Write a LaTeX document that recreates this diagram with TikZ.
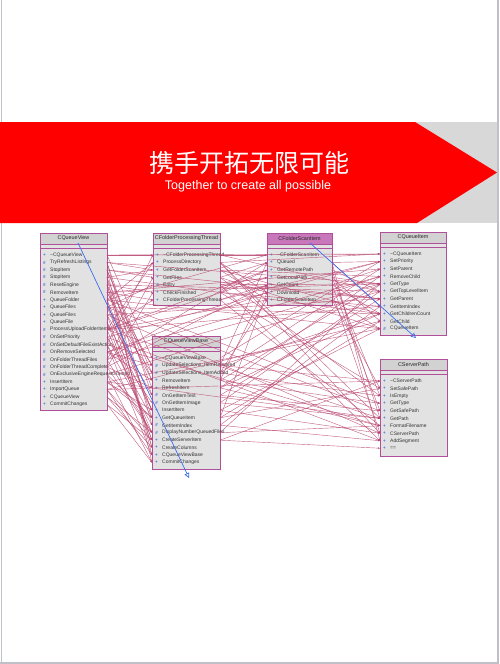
\documentclass[tikz,border=0pt]{standalone}
\usepackage{fontspec}
\setmainfont{Liberation Sans}
\newfontfamily\cjk{Noto Sans CJK SC}
\usetikzlibrary{arrows.meta}
\definecolor{cborder}{HTML}{B0509A}
\definecolor{hdrgray}{HTML}{D2D2D2}
\definecolor{bodygray}{HTML}{E2E2E2}
\definecolor{hdrpink}{HTML}{C878BA}
\definecolor{depline}{HTML}{B8456E}
\definecolor{inhblue}{HTML}{3C6EEC}
\definecolor{markblue}{HTML}{4A70D8}
\definecolor{bannerred}{HTML}{FF0000}
\definecolor{bannergray}{HTML}{D8D8D8}
\definecolor{framegray}{HTML}{BFC0C8}
\tikzset{
  hdr/.style={inner sep=0pt, font=\fontsize{5.4}{6}\selectfont, text=black!85},
  itm/.style={inner sep=0pt, anchor=west, font=\fontsize{5}{6}\selectfont, text=black!80},
  mk/.style={inner sep=0pt, font=\fontsize{4.5}{5}\selectfont\bfseries, text=markblue},
  dep/.style={draw=depline, draw opacity=0.85, line width=0.42pt, -{Stealth[length=2.2pt,width=1.8pt]}},
  inh/.style={draw=inhblue, line width=0.7pt, -{Triangle[open,length=5pt,width=5pt]}},
}
% #1 prefix, #2 L, #3 R, #4 T, #5 B, #6 title, #7 header fill, #8 items
\newcommand{\umlclassbox}[8]{%
  \fill[bodygray] (#2,#4) rectangle (#3,#5);
  \fill[#7] (#2,#4) rectangle (#3,#4+11);
  \draw[cborder, line width=0.6pt] (#2,#4+11) -- (#3,#4+11);
  \draw[cborder, line width=0.8pt] (#2,#4+15) -- (#3,#4+15);
  \draw[cborder, line width=0.9pt] (#2,#4) rectangle (#3,#5);
  \node[hdr] (#1) at ({(#2+#3)/2},#4+5.5) {#6};
  \foreach[count=\i] \m/\t in {#8} {
    \pgfmathsetmacro{\yy}{#4+22+(\i-1)*7.47}
    \node[mk] at ({#2+4.5},\yy) {\m};
    \node[itm] (#1-\i) at ({#2+10},\yy) {\t};
    \coordinate (#1-\i-l) at (#2,\yy);
    \coordinate (#1-\i-r) at (#3,\yy);
  }
}
\begin{document}
\begin{tikzpicture}[x=1pt,y=-1pt]
\useasboundingbox (0,0) rectangle (499,664);
\fill[white] (0,0) rectangle (499,664);
% page frame
\draw[framegray, line width=0.8pt] (1,0) -- (1,663);
\draw[framegray, line width=1.4pt] (497.8,0) -- (497.8,663) -- (0,663);
% banner
\fill[bannergray] (414,122) rectangle (497,223);
\fill[bannerred] (0,122) -- (415,122) -- (497,172.5) -- (417,223) -- (0,223) -- cycle;
\node[text=white, inner sep=0pt, font=\cjk\fontsize{25}{27}\selectfont] (title) at (249.5,163) {携手开拓无限可能};
\node[text=white, inner sep=0pt, font=\fontsize{12.5}{14}\selectfont] (subtitle) at (248,186) {Together to create all possible};
% classes
\umlclassbox{qv}{40}{107}{233}{410}{CQueueView}{hdrgray}{+/\textasciitilde CQueueView, \#/TryRefreshListings, \#/StopItem, \#/StopItem, \#/ResetEngine, \#/RemoveItem, +/QueueFolder, +/QueueFiles, +/QueueFiles, +/QueueFile, \#/ProcessUploadFolderItems, \#/OnSetPriority, \#/OnSetDefaultFileExistAction, \#/OnRemoveSelected, \#/OnFolderThreadFiles, \#/OnFolderThreadComplete, \#/OnExclusiveEngineRequestGranted, +/InsertItem, +/ImportQueue, +/CQueueView, +/CommitChanges}
\umlclassbox{fp}{153}{220}{233}{305}{CFolderProcessingThread}{hdrgray}{+/\textasciitilde CFolderProcessingThread, +/ProcessDirectory, +/GetFolderScanItem, +/GetFiles, \#/Entry, +/CheckFinished, +/CFolderProcessingThread}
\umlclassbox{fs}{267}{332}{233}{305}{CFolderScanItem}{hdrpink}{+/\textasciitilde CFolderScanItem, +/Queued, +/GetRemotePath, +/GetLocalPath, +/GetCount, +/Download, +/CFolderScanItem}
\umlclassbox{qi}{380}{446}{232}{335}{CQueueItem}{hdrgray}{+/\textasciitilde CQueueItem, +/SetPriority, +/SetParent, +/RemoveChild, +/GetType, +/GetTopLevelItem, +/GetParent, +/GetItemIndex, +/GetChildrenCount, +/GetChild, \#/CQueueItem}
\umlclassbox{sp}{380}{447}{359}{456}{CServerPath}{hdrgray}{+/\textasciitilde CServerPath, +/SetSafePath, +/IsEmpty, +/GetType, +/GetSafePath, +/GetPath, +/FormatFilename, +/CServerPath, +/AddSegment, +/==}
\umlclassbox{vb}{152}{220}{336}{469}{CQueueViewBase}{hdrgray}{+/\textasciitilde CQueueViewBase, \#/UpdateSelections\_ItemRemoved, \#/UpdateSelections\_ItemAdded, +/RemoveItem, +/RefreshItem, \#/OnGetItemText, \#/OnGetItemImage, +/InsertItem, +/GetQueueItem, \#/GetItemIndex, \#/DisplayNumberQueuedFiles, +/CreateServerItem, +/CreateColumns, +/CQueueViewBase, +/CommitChanges}
% dependency connectors
\foreach \a/\b in {qv-1/fp-1, qv-2/fp-3, qv-5/fp-6, qv-7/fp-2, qv-11/fp-2, qv-11/fp-7, qv-15/fp-4, qv-16/fp-6, qv-8/fp-5, qv-13/fp-1, qv-3/fp-4, qv-6/fp-7, qv-4/fp-3,
  qv-1/vb-1, qv-2/vb-10, qv-3/vb-4, qv-3/vb-3, qv-4/vb-5, qv-5/vb-9, qv-6/vb-4, qv-6/vb-2, qv-7/vb-8, qv-8/vb-8, qv-9/vb-12, qv-10/vb-8, qv-11/vb-11, qv-12/vb-9, qv-13/vb-10, qv-14/vb-4, qv-14/vb-2, qv-15/vb-11, qv-16/vb-5, qv-17/vb-9, qv-18/vb-8, qv-19/vb-12, qv-20/vb-13, qv-21/vb-15, qv-4/vb-14, qv-9/vb-6, qv-12/vb-7, qv-19/vb-14, qv-20/vb-11, qv-17/vb-15,
  qv-2/vb-6, qv-5/vb-13, qv-8/vb-3, qv-10/vb-12, qv-13/vb-14, qv-16/vb-11, qv-18/vb-9, qv-21/vb-12, qv-3/vb-15, qv-5/vb-2, qv-7/vb-13,
  qv-7/fs-1, qv-11/fs-3, qv-11/fs-4, qv-15/fs-2, qv-16/fs-5, qv-11/fs-7, qv-14/fs-6,
  qv-2/qi-5, qv-3/qi-7, qv-4/qi-9, qv-5/qi-6, qv-6/qi-3, qv-7/qi-11, qv-12/qi-2, qv-14/qi-4, qv-18/qi-11, qv-19/qi-10, qv-11/qi-8, qv-15/qi-5, qv-17/qi-6, qv-1/qi-1, qv-8/qi-9, qv-9/qi-7, qv-6/qi-5,
  qv-7/sp-4, qv-11/sp-6, qv-9/sp-8, qv-13/sp-7, qv-19/sp-1, qv-12/sp-9, qv-8/sp-5, qv-18/sp-6,
  fp-1/fs-1, fp-3/fs-7, fp-2/fs-6, fp-5/fs-4, fp-7/fs-5, fp-4/fs-2, fp-6/fs-3,
  fp-2/qi-1, fp-3/qi-9, fp-5/qi-5, fp-6/qi-8, fp-7/qi-2, fp-1/qi-6, fp-4/qi-11, fp-3/qi-4, fp-5/qi-7,
  fp-2/sp-6, fp-2/sp-8, fp-4/sp-3, fp-5/sp-9, fp-6/sp-2, fp-7/sp-7,
  vb-2/fs-2, vb-4/fs-5, vb-9/fs-6, vb-3/fs-7,
  vb-4/qi-5, vb-5/qi-4, vb-6/qi-7, vb-7/qi-6, vb-8/qi-11, vb-9/qi-10, vb-2/qi-9, vb-3/qi-3, vb-10/qi-8, vb-1/qi-2, vb-11/qi-5, vb-5/qi-9,
  vb-6/sp-5, vb-11/sp-7, vb-12/sp-1, vb-4/sp-4, vb-7/sp-6, vb-9/sp-2, vb-12/sp-10, vb-3/sp-3, vb-8/sp-8, vb-10/sp-9, vb-5/sp-7, vb-2/sp-1,
  fs-1/qi-1, fs-2/qi-2, fs-3/qi-6, fs-4/qi-5, fs-5/qi-9, fs-6/qi-7, fs-7/qi-11, fs-6/qi-4, fs-5/qi-3, fs-4/qi-10, fs-2/qi-8,
  fs-3/sp-6, fs-4/sp-3, fs-6/sp-8, fs-7/sp-2, fs-5/sp-5, fs-2/sp-9}
  \draw[dep] (\a-r) -- (\b-l);
% inheritance connectors
\coordinate (qvinh) at (78,243);
\coordinate (vbinh) at (189,478);
\coordinate (fsinh) at (310,243);
\coordinate (qiinh) at (416,338);
\draw[inh] (qvinh) -- (vbinh);
\draw[inh] (fsinh) -- (qiinh);
\end{tikzpicture}
\end{document}
